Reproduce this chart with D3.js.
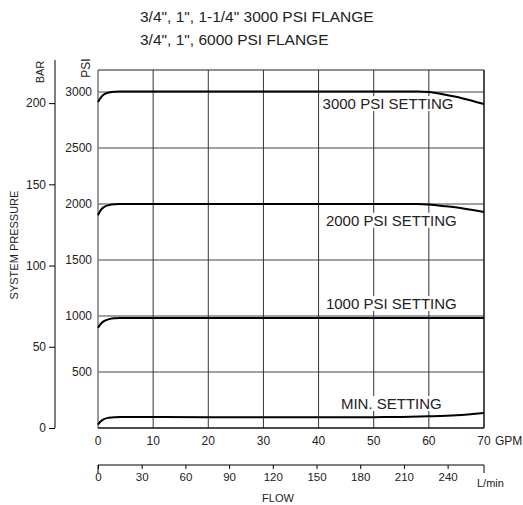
<!DOCTYPE html>
<html lang="en">
<head>
    <meta charset="UTF-8">
    <title>Pressure vs flow</title>
    <script type="text/javascript" src="https://cdn.jsdelivr.net/npm/d3@7/dist/d3.min.js"></script>
    <style type="text/css">
        body { margin: 0; background: #fff; }
        text { font-family: "Liberation Sans", Arial, sans-serif; fill: #222; }
    </style>
</head>
<body>
    <script type="text/javascript">
        //Width and height
        var w = 523;
        var h = 505;

        var titleLines = ["3/4\", 1\", 1-1/4\" 3000 PSI FLANGE", "3/4\", 1\", 6000 PSI FLANGE"];

        //Tick labels
        var gpmTicks = [0, 10, 20, 30, 40, 50, 60, 70];
        var lminTicks = [0, 30, 60, 90, 120, 150, 180, 210, 240];
        var psiTicks = [500, 1000, 1500, 2000, 2500, 3000];
        var barTicks = [0, 50, 100, 150, 200];

        //Curves: flow (GPM) and pressure (PSI)
        var names = ["3000 PSI SETTING", "2000 PSI SETTING", "1000 PSI SETTING", "MIN. SETTING"];
        var flow = [
            [0, 0.5, 1, 2, 3, 4, 20, 40, 58, 60, 63, 66, 70],
            [0, 0.5, 1, 2, 3, 4, 20, 40, 58, 60, 63, 66, 70],
            [0, 0.5, 1, 2, 3, 4, 20, 40, 60, 70],
            [0, 0.5, 1, 2, 3, 4, 20, 40, 50, 55, 60, 65, 70]
        ];
        var pressure = [
            [2910, 2950, 2975, 2995, 3003, 3005, 3005, 3005, 3005, 3000, 2975, 2945, 2893],
            [1900, 1945, 1970, 1990, 1998, 2000, 2000, 2000, 2000, 1995, 1980, 1962, 1928],
            [895, 930, 952, 972, 980, 982, 982, 982, 982, 982],
            [30, 60, 78, 92, 97, 98, 97, 96, 97, 99, 104, 113, 133]
        ];
        //Label anchor (GPM, PSI) for each curve
        var labelAt = [[52.6, 2848], [53.2, 1805], [53.2, 1062], [53.2, 170]];

        var mLeft = 98, mRight = 484, mTop = 70, mBottom = 428;

        var xScale = d3.scaleLinear().domain([0, 70]).range([mLeft, mRight]);
        var yScale = d3.scaleLinear().domain([0, 3000]).range([mBottom, 92]);
        var barScale = d3.scaleLinear().domain([0, 3000 / 14.5038]).range([mBottom, 92]);
        var lminScale = d3.scaleLinear().domain([0, 70 * 3.78541]).range([mLeft, mRight]);

        var svg = d3.select("body")
            .append("svg")
            .attr("width", w)
            .attr("height", h);

        //Title
        svg.selectAll(".title")
            .data(titleLines)
            .enter()
            .append("text")
            .attr("x", 140)
            .attr("y", function(d, i) { return 22 + i * 23; })
            .style("font-size", "15.5px")
            .text(function(d) { return d; });

        //Grid
        svg.selectAll(".hgrid")
            .data(psiTicks)
            .enter()
            .append("line")
            .attr("x1", mLeft).attr("x2", mRight)
            .attr("y1", function(d) { return yScale(d); })
            .attr("y2", function(d) { return yScale(d); })
            .attr("stroke", "#444")
            .attr("stroke-width", 1);

        svg.selectAll(".vgrid")
            .data(gpmTicks.slice(1, -1))
            .enter()
            .append("line")
            .attr("x1", function(d) { return xScale(d); })
            .attr("x2", function(d) { return xScale(d); })
            .attr("y1", mTop).attr("y2", mBottom)
            .attr("stroke", "#333")
            .attr("stroke-width", 1);

        //Curve labels with white background (under the curves)
        var labels = svg.selectAll(".lbl")
            .data(names)
            .enter()
            .append("g");

        labels.append("text")
            .attr("x", function(d, i) { return xScale(labelAt[i][0]); })
            .attr("y", function(d, i) { return yScale(labelAt[i][1]); })
            .attr("text-anchor", "middle")
            .style("font-size", "15px")
            .text(function(d) { return d; });

        labels.each(function() {
            var g = d3.select(this);
            var b = g.select("text").node().getBBox();
            g.insert("rect", "text")
                .attr("x", b.x - 1).attr("y", b.y + 1)
                .attr("width", b.width + 2).attr("height", b.height - 2)
                .attr("fill", "#fff");
        });

        //Frame
        svg.append("line").attr("x1", mLeft).attr("x2", mLeft).attr("y1", mTop).attr("y2", mBottom)
            .attr("stroke", "#777").attr("stroke-width", 1.5);
        svg.append("line").attr("x1", mLeft).attr("x2", mRight).attr("y1", mTop).attr("y2", mTop)
            .attr("stroke", "#222").attr("stroke-width", 1.2);
        svg.append("line").attr("x1", mRight).attr("x2", mRight).attr("y1", mTop).attr("y2", mBottom)
            .attr("stroke", "#111").attr("stroke-width", 1.5);
        svg.append("line").attr("x1", mLeft).attr("x2", mRight).attr("y1", mBottom).attr("y2", mBottom)
            .attr("stroke", "#111").attr("stroke-width", 1.5);

        //Curves
        var line = d3.line()
            .x(function(d) { return xScale(d[0]); })
            .y(function(d) { return yScale(d[1]); })
            .curve(d3.curveMonotoneX);

        svg.selectAll(".curve")
            .data(flow.map(function(f, i) { return d3.zip(f, pressure[i]); }))
            .enter()
            .append("path")
            .attr("d", line)
            .attr("fill", "none")
            .attr("stroke", "#000")
            .attr("stroke-width", 2);

        //PSI labels
        svg.selectAll(".psi")
            .data(psiTicks)
            .enter()
            .append("text")
            .attr("x", 92)
            .attr("y", function(d) { return yScale(d) + 4; })
            .attr("text-anchor", "end")
            .style("font-size", "12px")
            .text(function(d) { return d; });

        svg.append("text")
            .attr("transform", "translate(90,68) rotate(-90)")
            .attr("text-anchor", "middle")
            .style("font-size", "12px")
            .text("PSI");

        //BAR axis
        svg.append("g")
            .attr("transform", "translate(55,0)")
            .call(d3.axisLeft(barScale).tickValues(barTicks).tickSize(6).tickPadding(3))
            .call(function(g) {
                g.select(".domain").attr("d", "M0,60V" + mBottom);
                g.selectAll("text").style("font-size", "12px").attr("font-family", null);
            });

        svg.append("text")
            .attr("transform", "translate(44,72) rotate(-90)")
            .attr("text-anchor", "middle")
            .style("font-size", "11px")
            .text("BAR");

        svg.append("text")
            .attr("transform", "translate(18,245) rotate(-90)")
            .attr("text-anchor", "middle")
            .style("font-size", "11px")
            .text("SYSTEM PRESSURE");

        //GPM labels
        svg.selectAll(".gpm")
            .data(gpmTicks)
            .enter()
            .append("text")
            .attr("x", function(d) { return xScale(d); })
            .attr("y", 445)
            .attr("text-anchor", "middle")
            .style("font-size", "12px")
            .text(function(d) { return d; });

        svg.append("text")
            .attr("x", 495).attr("y", 445)
            .style("font-size", "12px")
            .text("GPM");

        //L/min axis
        svg.append("g")
            .attr("transform", "translate(0,465)")
            .call(d3.axisBottom(lminScale).tickValues(lminTicks).tickSize(4).tickPadding(4))
            .call(function(g) {
                g.select(".domain").attr("d", "M" + mLeft + ",8V0H" + mRight + "V8");
                g.selectAll("text").style("font-size", "11.5px").attr("font-family", null);
            });

        svg.append("text")
            .attr("x", 477).attr("y", 487)
            .style("font-size", "11px")
            .text("L/min");

        svg.append("text")
            .attr("x", 278).attr("y", 502)
            .attr("text-anchor", "middle")
            .style("font-size", "11px")
            .text("FLOW");
    </script>
</body>
</html>
